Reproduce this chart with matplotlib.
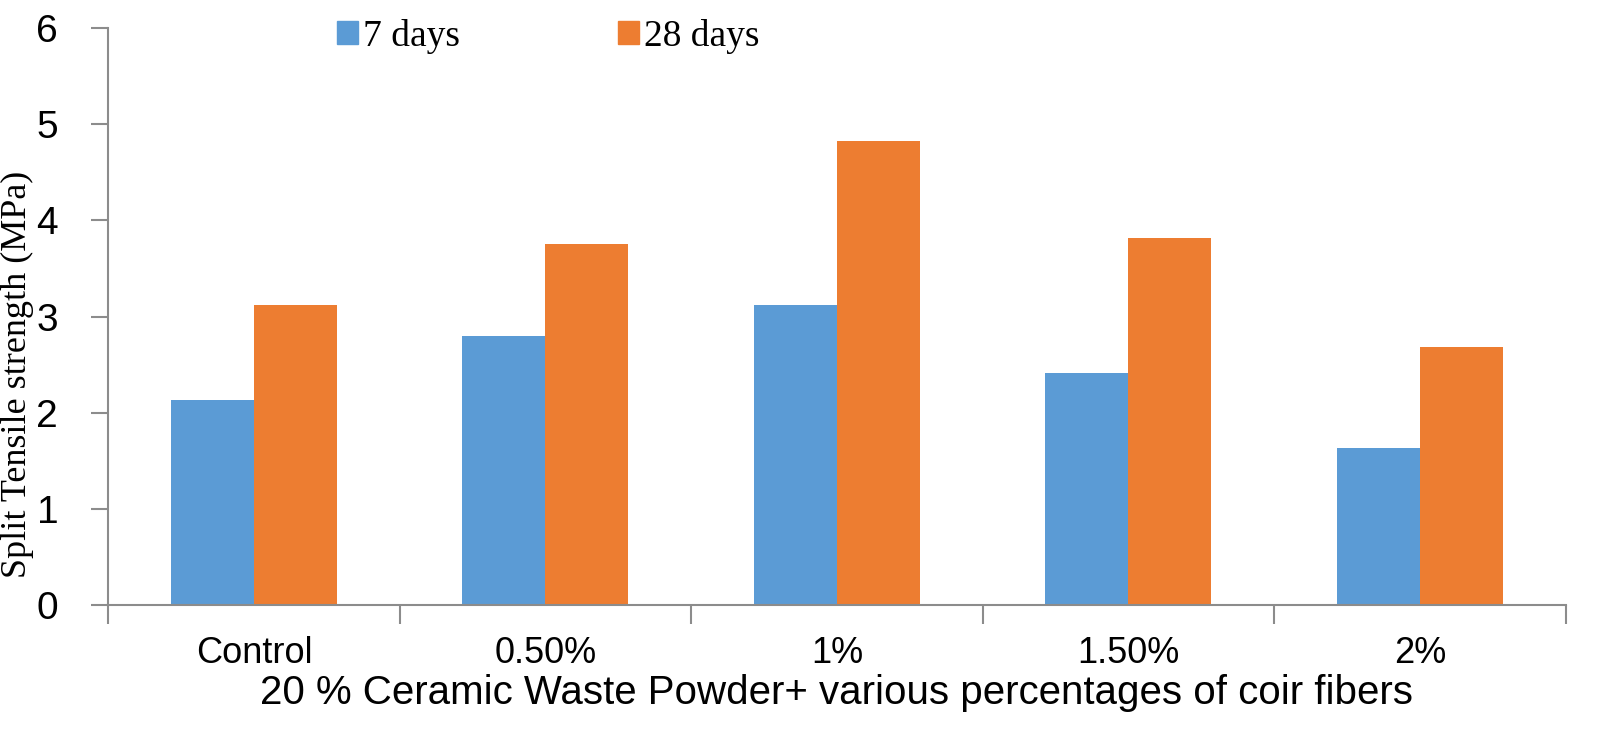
import numpy as np
import matplotlib.pyplot as plt
from matplotlib.patches import Patch

categories = ["Control", "0.50%", "1%", "1.50%", "2%"]
days7 = [2.13, 2.80, 3.12, 2.41, 1.63]
days28 = [3.12, 3.76, 4.83, 3.82, 2.68]

blue = "#5B9BD5"
orange = "#ED7D31"
grey = "#8C8C8C"
narrow = ["Liberation Sans Narrow", "Liberation Sans"]

fig = plt.figure(figsize=(16.14, 7.39), dpi=100)
ax = fig.add_axes([0.067, 0.181, 0.903, 0.781])

x = np.arange(len(categories))
w = 0.285
ax.bar(x - w / 2, days7, w, color=blue, label="7 days")
ax.bar(x + w / 2, days28, w, color=orange, label="28 days")

ax.set_xlim(-0.5, len(categories) - 0.5)
ax.set_ylim(0, 6)
ax.set_yticks(range(7))

for s in ["top", "right"]:
    ax.spines[s].set_visible(False)
for s in ["left", "bottom"]:
    ax.spines[s].set_color(grey)
    ax.spines[s].set_linewidth(1.5)

# category labels without ticks, boundary ticks below the axis
ax.set_xticks(x)
ax.set_xticklabels(categories, fontsize=26, family=narrow)
ax.tick_params(axis="x", length=0, pad=22)
ax.set_xticks(np.arange(-0.5, len(categories)), minor=True)
ax.tick_params(axis="x", which="minor", length=14, width=1.5, color=grey, direction="out")
ax.tick_params(axis="y", labelsize=28, length=12, width=1.5, color=grey, pad=24)
for t in ax.get_yticklabels():
    t.set_family(narrow)

ax.set_xlabel("20 % Ceramic Waste Powder+ various percentages of coir fibers",
              fontsize=29, family=narrow, labelpad=2)
ax.set_ylabel("Split Tensile strength (MPa)", fontsize=26,
              family="Liberation Serif")
ax.yaxis.set_label_coords(-0.051, 0.40)

handles = [Patch(color=blue), Patch(color=orange)]
fig.legend(handles, ["7 days", "28 days"], loc="upper left",
           bbox_to_anchor=(0.188, 1.02), ncol=2, frameon=False,
           prop={"family": "Liberation Serif", "size": 27},
           handlelength=0.55, handleheight=0.55, handletextpad=0.15,
           columnspacing=4.2)

fig.savefig("out.png", dpi=100)
